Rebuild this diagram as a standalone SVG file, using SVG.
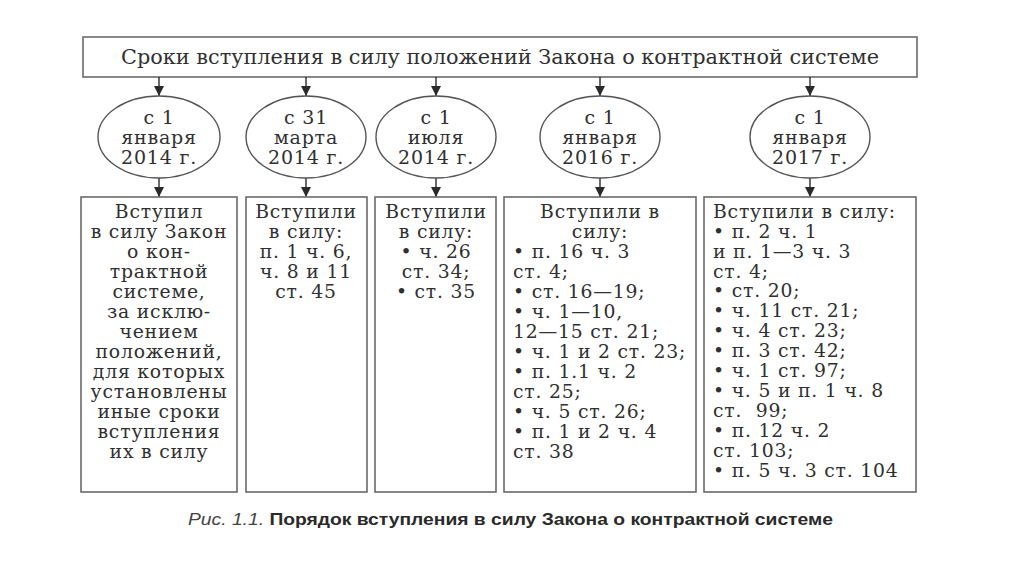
<svg xmlns="http://www.w3.org/2000/svg" width="1024" height="574" viewBox="0 0 1024 574">
<defs>
<marker id="ah" viewBox="0 0 10 10" refX="10" refY="5" markerWidth="10" markerHeight="10" markerUnits="userSpaceOnUse" orient="auto">
<path d="M0,0 L10,5 L0,10 z" fill="#2a2a2a"/>
</marker>
<style>
.box{fill:#fff;stroke:#6a6a6a;stroke-width:1.6}
.ell{fill:#fff;stroke:#555;stroke-width:1.4}
.t{font-family:"DejaVu Serif","Liberation Serif",serif;font-size:18.8px;letter-spacing:0.8px;fill:#303030}
.c{text-anchor:middle}
.et{font-family:"DejaVu Serif","Liberation Serif",serif;font-size:19px;letter-spacing:0.8px;fill:#303030;text-anchor:middle}
.title{font-family:"DejaVu Serif","Liberation Serif",serif;font-size:20px;fill:#303030;text-anchor:middle}
.cap{font-family:"Liberation Sans","Noto Sans",sans-serif;font-size:16.8px;fill:#2a2a2a}
.ln{stroke:#2a2a2a;stroke-width:1.4;fill:none}
</style>
</defs>
<rect width="1024" height="574" fill="#fff"/>

<g id="title">
<rect class="box" x="83" y="37" width="834" height="40"/>
<text class="title" x="500" y="64" textLength="758" lengthAdjust="spacingAndGlyphs">Сроки вступления в силу положений Закона о контрактной системе</text>
</g>

<g id="connectors">
<line class="ln" x1="159" y1="77" x2="159" y2="96" marker-end="url(#ah)"/>
<line class="ln" x1="306" y1="77" x2="306" y2="96" marker-end="url(#ah)"/>
<line class="ln" x1="436" y1="77" x2="436" y2="96" marker-end="url(#ah)"/>
<line class="ln" x1="600" y1="77" x2="600" y2="96" marker-end="url(#ah)"/>
<line class="ln" x1="810" y1="77" x2="810" y2="96" marker-end="url(#ah)"/>
<line class="ln" x1="159" y1="178" x2="159" y2="197" marker-end="url(#ah)"/>
<line class="ln" x1="306" y1="178" x2="306" y2="197" marker-end="url(#ah)"/>
<line class="ln" x1="436" y1="178" x2="436" y2="197" marker-end="url(#ah)"/>
<line class="ln" x1="600" y1="178" x2="600" y2="197" marker-end="url(#ah)"/>
<line class="ln" x1="810" y1="178" x2="810" y2="197" marker-end="url(#ah)"/>
</g>

<g id="date1">
<ellipse class="ell" cx="159" cy="137" rx="61" ry="41"/>
<text class="et" x="159" y="124">с 1</text>
<text class="et" x="159" y="144">января</text>
<text class="et" x="159" y="164">2014 г.</text>
</g>
<g id="date2">
<ellipse class="ell" cx="306" cy="137" rx="60" ry="41"/>
<text class="et" x="306" y="124">с 31</text>
<text class="et" x="306" y="144">марта</text>
<text class="et" x="306" y="164">2014 г.</text>
</g>
<g id="date3">
<ellipse class="ell" cx="436" cy="137" rx="60" ry="41"/>
<text class="et" x="436" y="124">с 1</text>
<text class="et" x="436" y="144">июля</text>
<text class="et" x="436" y="164">2014 г.</text>
</g>
<g id="date4">
<ellipse class="ell" cx="600" cy="137" rx="60" ry="41"/>
<text class="et" x="600" y="124">с 1</text>
<text class="et" x="600" y="144">января</text>
<text class="et" x="600" y="164">2016 г.</text>
</g>
<g id="date5">
<ellipse class="ell" cx="810" cy="137" rx="60" ry="41"/>
<text class="et" x="810" y="124">с 1</text>
<text class="et" x="810" y="144">января</text>
<text class="et" x="810" y="164">2017 г.</text>
</g>

<g id="box1">
<rect class="box" x="81" y="197" width="156" height="295"/>
<text class="t c" x="159" y="218">Вступил</text>
<text class="t c" x="159" y="238">в силу Закон</text>
<text class="t c" x="159" y="258">о кон-</text>
<text class="t c" x="159" y="278">трактной</text>
<text class="t c" x="159" y="298">системе,</text>
<text class="t c" x="159" y="318">за исклю-</text>
<text class="t c" x="159" y="338">чением</text>
<text class="t c" x="159" y="358">положений,</text>
<text class="t c" x="159" y="378">для которых</text>
<text class="t c" x="159" y="398">установлены</text>
<text class="t c" x="159" y="418">иные сроки</text>
<text class="t c" x="159" y="438">вступления</text>
<text class="t c" x="159" y="458">их в силу</text>
</g>

<g id="box2">
<rect class="box" x="246" y="197" width="121" height="295"/>
<text class="t c" x="306" y="218">Вступили</text>
<text class="t c" x="306" y="238">в силу:</text>
<text class="t c" x="306" y="258">п. 1 ч. 6,</text>
<text class="t c" x="306" y="278">ч. 8 и 11</text>
<text class="t c" x="306" y="298">ст. 45</text>
</g>

<g id="box3">
<rect class="box" x="375" y="197" width="121" height="295"/>
<text class="t c" x="436" y="218">Вступили</text>
<text class="t c" x="436" y="238">в силу:</text>
<text class="t c" x="436" y="258">• ч. 26</text>
<text class="t c" x="436" y="278">ст. 34;</text>
<text class="t c" x="436" y="298">• ст. 35</text>
</g>

<g id="box4">
<rect class="box" x="504" y="197" width="192" height="295"/>
<text class="t c" x="600" y="218">Вступили в</text>
<text class="t c" x="600" y="238">силу:</text>
<text class="t" x="513" y="258">• п. 16 ч. 3</text>
<text class="t" x="513" y="278">ст. 4;</text>
<text class="t" x="513" y="298">• ст. 16—19;</text>
<text class="t" x="513" y="318">• ч. 1—10,</text>
<text class="t" x="513" y="338">12—15 ст. 21;</text>
<text class="t" x="513" y="358">• ч. 1 и 2 ст. 23;</text>
<text class="t" x="513" y="378">• п. 1.1 ч. 2</text>
<text class="t" x="513" y="398">ст. 25;</text>
<text class="t" x="513" y="418">• ч. 5 ст. 26;</text>
<text class="t" x="513" y="438">• п. 1 и 2 ч. 4</text>
<text class="t" x="513" y="458">ст. 38</text>
</g>

<g id="box5">
<rect class="box" x="704" y="197" width="212" height="295"/>
<text class="t" x="713" y="218">Вступили в силу:</text>
<text class="t" x="713" y="238">• п. 2 ч. 1</text>
<text class="t" x="713" y="258">и п. 1—3 ч. 3</text>
<text class="t" x="713" y="278">ст. 4;</text>
<text class="t" x="713" y="297">• ст. 20;</text>
<text class="t" x="713" y="317">• ч. 11 ст. 21;</text>
<text class="t" x="713" y="337">• ч. 4 ст. 23;</text>
<text class="t" x="713" y="357">• п. 3 ст. 42;</text>
<text class="t" x="713" y="377">• ч. 1 ст. 97;</text>
<text class="t" x="713" y="397">• ч. 5 и п. 1 ч. 8</text>
<text class="t" x="713" y="417" xml:space="preserve">ст.  99;</text>
<text class="t" x="713" y="437">• п. 12 ч. 2</text>
<text class="t" x="713" y="457">ст. 103;</text>
<text class="t" x="713" y="477">• п. 5 ч. 3 ст. 104</text>
</g>

<g id="caption">
<text class="cap" x="188" y="524.5" textLength="645" lengthAdjust="spacingAndGlyphs"><tspan font-style="italic" fill="#444">Рис. 1.1.</tspan> <tspan font-weight="bold">Порядок вступления в силу Закона о контрактной системе</tspan></text>
</g>
</svg>
